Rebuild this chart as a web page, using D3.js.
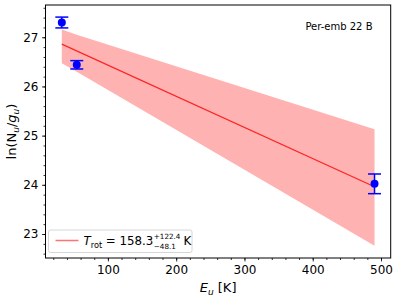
<!DOCTYPE html>
<html>
  <head>
    <meta charset="UTF-8" />
    <title>Rotation diagram</title>
    <style>
      body { margin: 0; background: #fff; }
      text { font-family: 'DejaVu Sans', sans-serif; fill: #000; }
    </style>
  </head>
  <body>
    <svg width="399" height="300"></svg>
    <script src="https://cdnjs.cloudflare.com/ajax/libs/d3/7.8.5/d3.min.js"></script>
    <script>
      // measured points
      const energies = [32.5, 54.4, 490.5];
      const lnN = [27.3, 26.44, 24.02];
      const lnErr = [0.11, 0.085, 0.2];

      // fitted line and confidence band
      const fitE = [32.5, 490.5];
      const fitY = [26.86, 23.96];
      const bandE = [32.5, 54.4, 490.5];
      const bandHi = [27.16, 27.05, 25.13];
      const bandLo = [26.47, 26.3, 22.76];

      const xTicks = [100, 200, 300, 400, 500];
      const yTicks = [23, 24, 25, 26, 27];
      const label = 'Per-emb 22 B';

      const svg = d3.select('svg');
      const margin = { top: 5, right: 8.3, bottom: 42, left: 45.5 };
      const width = 399 - margin.left - margin.right;
      const height = 300 - margin.top - margin.bottom;

      const x = d3.scaleLinear().domain([8.6, 514.2]).range([0, width]);
      const y = d3.scaleLinear().domain([22.512, 27.656]).range([height, 0]);

      const g = svg.append('g')
        .attr('transform', `translate(${margin.left},${margin.top})`);

      // band
      const bandPts = bandE.map((e, i) => [e, bandHi[i]])
        .concat(bandE.map((e, i) => [e, bandLo[i]]).reverse());
      g.append('path')
        .attr('d', d3.line().x(d => x(d[0])).y(d => y(d[1]))(bandPts) + 'Z')
        .attr('fill', '#ff0000')
        .attr('fill-opacity', 0.3);

      // fit line
      g.append('path')
        .attr('d', d3.line().x(d => x(d[0])).y(d => y(d[1]))(fitE.map((e, i) => [e, fitY[i]])))
        .attr('stroke', '#ff0000')
        .attr('stroke-opacity', 0.8)
        .attr('stroke-width', 1.3)
        .attr('fill', 'none');

      // error bars
      const pts = energies.map((e, i) => ({ e, v: lnN[i], err: lnErr[i] }));
      const eb = g.selectAll('.eb').data(pts).enter().append('g')
        .attr('stroke', '#0000ff').attr('stroke-width', 1.5);
      eb.append('line')
        .attr('x1', d => x(d.e)).attr('x2', d => x(d.e))
        .attr('y1', d => y(d.v + d.err)).attr('y2', d => y(d.v - d.err));
      eb.append('line')
        .attr('x1', d => x(d.e) - 6.5).attr('x2', d => x(d.e) + 6.5)
        .attr('y1', d => y(d.v + d.err)).attr('y2', d => y(d.v + d.err));
      eb.append('line')
        .attr('x1', d => x(d.e) - 6.5).attr('x2', d => x(d.e) + 6.5)
        .attr('y1', d => y(d.v - d.err)).attr('y2', d => y(d.v - d.err));
      g.selectAll('.pt').data(pts).enter().append('circle')
        .attr('cx', d => x(d.e)).attr('cy', d => y(d.v))
        .attr('r', 4).attr('fill', '#0000ff');

      // axes
      const xAxis = g.append('g').attr('transform', `translate(0,${height})`)
        .call(d3.axisBottom(x).tickValues(xTicks).tickSize(3.5).tickPadding(3.5).tickFormat(d3.format('d')));
      const xMinor = g.append('g').attr('transform', `translate(0,${height})`)
        .call(d3.axisBottom(x).tickValues(d3.range(20, 514, 20)).tickSize(2).tickFormat(''));
      const yAxis = g.append('g')
        .call(d3.axisLeft(y).tickValues(yTicks).tickSize(3.5).tickPadding(3.5).tickFormat(d3.format('d')));
      const yMinor = g.append('g')
        .call(d3.axisLeft(y).tickValues(d3.range(22.6, 27.65, 0.2)).tickSize(2).tickFormat(''));
      [xAxis, xMinor, yAxis, yMinor].forEach(a => {
        a.select('.domain').remove();
        a.selectAll('line').attr('stroke', '#000').attr('stroke-width', 0.8);
        a.selectAll('text').attr('font-size', 12).attr('font-family', 'DejaVu Sans');
      });

      g.append('rect')
        .attr('width', width).attr('height', height)
        .attr('fill', 'none').attr('stroke', '#000').attr('stroke-width', 1);

      // in-plot label
      g.append('text')
        .attr('x', 327).attr('y', 25)
        .attr('text-anchor', 'end')
        .attr('font-size', 10)
        .text(label);

      // legend
      const lg = g.append('g').attr('transform', 'translate(3,225)');
      lg.append('rect')
        .attr('width', 143.5).attr('height', 22.5).attr('rx', 2)
        .attr('fill', '#fff').attr('fill-opacity', 0.8)
        .attr('stroke', '#ccc').attr('stroke-width', 0.8);
      lg.append('line')
        .attr('x1', 7).attr('x2', 30).attr('y1', 10.5).attr('y2', 10.5)
        .attr('stroke', '#ff0000').attr('stroke-opacity', 0.55).attr('stroke-width', 1.5);
      const lt = lg.append('text').attr('x', 35).attr('y', 15).attr('font-size', 11.8);
      lt.append('tspan').attr('font-style', 'italic').text('T');
      lt.append('tspan').attr('font-size', 8.2).attr('dy', 2.5).text('rot');
      lt.append('tspan').attr('dy', -2.5).text(' = 158.3');
      const lw = lt.node().getComputedTextLength();
      const sup = lg.append('text').attr('x', 35 + lw + 0.5).attr('y', 9).attr('font-size', 7.2).text('+122.4');
      lg.append('text').attr('x', 35 + lw + 0.5).attr('y', 18.5).attr('font-size', 7.2).text('\u221248.1');
      const sw = sup.node().getComputedTextLength();
      lg.append('text').attr('x', 35 + lw + sw + 3.5).attr('y', 15).attr('font-size', 11.8).text('K');

      // axis labels
      const xl = svg.append('text')
        .attr('x', margin.left + width / 2).attr('y', 292)
        .attr('text-anchor', 'middle').attr('font-size', 13);
      xl.append('tspan').attr('font-style', 'italic').text('E');
      xl.append('tspan').attr('font-style', 'italic').attr('font-size', 9).attr('dy', 3).text('u');
      xl.append('tspan').attr('dy', -3).text(' [K]');

      const yl = svg.append('text')
        .attr('transform', `translate(16,${margin.top + height / 2}) rotate(-90)`)
        .attr('text-anchor', 'middle').attr('font-size', 13);
      yl.append('tspan').text('ln(N');
      yl.append('tspan').attr('font-style', 'italic').attr('font-size', 9).attr('dy', 3).text('u');
      yl.append('tspan').attr('dy', -3).text('/');
      yl.append('tspan').attr('font-style', 'italic').text('g');
      yl.append('tspan').attr('font-style', 'italic').attr('font-size', 9).attr('dy', 3).text('u');
      yl.append('tspan').attr('dy', -3).text(')');
    </script>
  </body>
</html>
